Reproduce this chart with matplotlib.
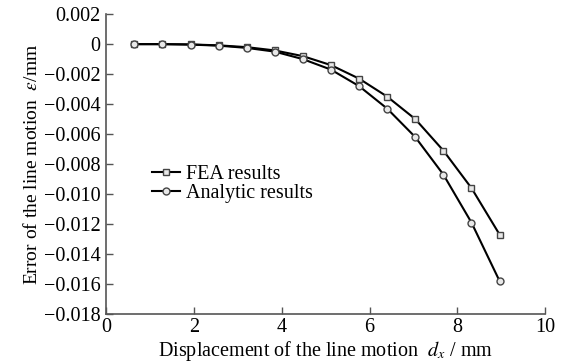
import matplotlib
matplotlib.use("Agg")
import matplotlib.pyplot as plt

# data
disp = [0.64, 1.28, 1.92, 2.56, 3.20, 3.84, 4.48, 5.12, 5.76, 6.40, 7.04, 7.68, 8.32, 8.96]
fea = [0.0, 0.0, -0.00002, -0.00008, -0.0002, -0.00042, -0.0008, -0.0014,
       -0.0023, -0.0035, -0.0050, -0.0071, -0.0096, -0.0127]
analytic = [0.0, 0.0, -0.00003, -0.0001, -0.00025, -0.0005, -0.0010, -0.0017,
            -0.0028, -0.0043, -0.0062, -0.0087, -0.0119, -0.0158]
xticks = [0, 2, 4, 6, 8, 10]
yticks = [0.002, 0, -0.002, -0.004, -0.006, -0.008, -0.010, -0.012, -0.014, -0.016, -0.018]
ytick_labels = ["0.002", "0", "\u22120.002", "\u22120.004", "\u22120.006", "\u22120.008",
                "\u22120.010", "\u22120.012", "\u22120.014", "\u22120.016", "\u22120.018"]

plt.rcParams['font.family'] = ['Liberation Serif', 'DejaVu Serif']
plt.rcParams['mathtext.fontset'] = 'stix'

fig = plt.figure(figsize=(5.65, 3.63), dpi=100)
ax = fig.add_axes([0.188, 0.135, 0.777, 0.826])

ax.plot(disp, fea, color='black', lw=1.5, marker='s', ms=5,
        mfc='#e8e8e8', mec='#444444', mew=1.0, label='FEA results')
ax.plot(disp, analytic, color='black', lw=1.5, marker='o', ms=5,
        mfc='#e8e8e8', mec='#444444', mew=1.0, label='Analytic results')

ax.set_xlim(0, 10)
ax.set_ylim(-0.018, 0.002)
ax.set_xticks(xticks)
ax.set_yticks(yticks)
ax.set_yticklabels(ytick_labels)
ax.tick_params(direction='in', length=5, width=1, color='#555555', labelsize=14.5)
ax.tick_params(axis='x', pad=3)
ax.tick_params(axis='y', pad=4)

for side in ['top', 'right']:
    ax.spines[side].set_visible(False)
for side in ['left', 'bottom']:
    ax.spines[side].set_color('#555555')
    ax.spines[side].set_linewidth(1.2)

ax.set_xlabel(r"Displacement of the line motion  $d_x$ / mm", fontsize=14.5, labelpad=1)
ax.set_ylabel(r"Error of the line motion  $\varepsilon$/mm", fontsize=14, labelpad=2)

ax.legend(loc='upper left', bbox_to_anchor=(0.085, 0.525), frameon=False, fontsize=14.5,
          handlelength=1.4, handletextpad=0.3, labelspacing=0.0, borderaxespad=0)

fig.savefig("out.png", dpi=100)
